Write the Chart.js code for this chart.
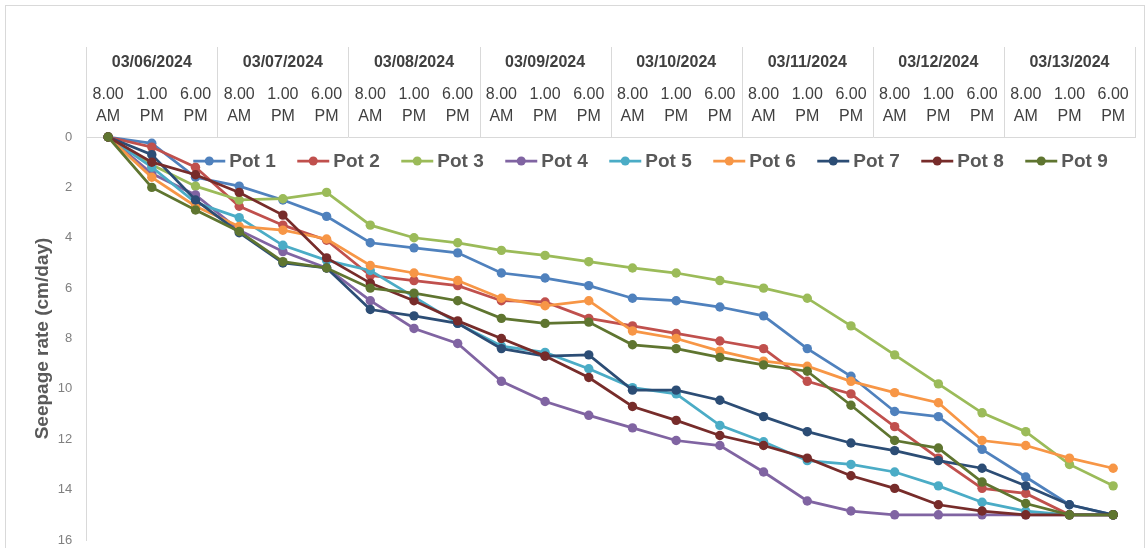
<!DOCTYPE html>
<html lang="en">
<head>
  <meta charset="UTF-8">
  <title>Seepage rate</title>
  <style>
    body {
      margin: 0;
      background: #fff;
      font-family: 'Liberation Sans', Arial, sans-serif;
    }
    .frame {
      position: absolute;
      left: 5px;
      top: 5px;
      width: 1138px;
      height: 560px;
      border: 1px solid #d9d9d9;
    }
    .wrap {
      position: absolute;
      left: 0;
      top: 0;
      width: 1147px;
      height: 548px;
    }
  </style>
  <script src="https://cdn.jsdelivr.net/npm/chart.js"></script>
</head>
<body>
  <div class="frame"></div>
  <div class="wrap"><canvas id="seepageChart"></canvas></div>

  <script>
    // categories
    const dates = ['03/06/2024', '03/07/2024', '03/08/2024', '03/09/2024',
                   '03/10/2024', '03/11/2024', '03/12/2024', '03/13/2024'];
    const slots = [['8.00', 'AM'], ['1.00', 'PM'], ['6.00', 'PM']];
    const yTicks = [0, 2, 4, 6, 8, 10, 12, 14, 16];

    // seepage rate (cm/day), one value per reading
    const pot1 = [0, 0.25, 1.6, 1.95, 2.5, 3.15, 4.2, 4.4, 4.6, 5.4, 5.6, 5.9, 6.4, 6.5, 6.75, 7.1, 8.4, 9.5, 10.9, 11.1, 12.4, 13.5, 14.6, 15];
    const pot2 = [0, 0.4, 1.2, 2.75, 3.5, 4.1, 5.5, 5.7, 5.9, 6.5, 6.55, 7.2, 7.5, 7.8, 8.1, 8.4, 9.7, 10.2, 11.5, 12.75, 13.95, 14.15, 15, 15];
    const pot3 = [0, 1.1, 1.95, 2.5, 2.45, 2.2, 3.5, 4.0, 4.2, 4.5, 4.7, 4.95, 5.2, 5.4, 5.7, 6.0, 6.4, 7.5, 8.65, 9.8, 10.95, 11.7, 13.0, 13.85];
    const pot4 = [0, 1.45, 2.3, 3.7, 4.55, 5.2, 6.5, 7.6, 8.2, 9.7, 10.5, 11.05, 11.55, 12.05, 12.25, 13.3, 14.45, 14.85, 15, 15, 15, 15, 15, 15];
    const pot5 = [0, 1.2, 2.6, 3.2, 4.3, 4.9, 5.3, 6.35, 7.4, 8.3, 8.55, 9.2, 9.95, 10.2, 11.45, 12.1, 12.85, 13.0, 13.3, 13.85, 14.5, 14.85, 15, 15];
    const pot6 = [0, 1.6, 2.75, 3.55, 3.7, 4.05, 5.1, 5.4, 5.7, 6.4, 6.7, 6.5, 7.7, 8.0, 8.5, 8.9, 9.1, 9.7, 10.15, 10.55, 12.05, 12.25, 12.75, 13.15];
    const pot7 = [0, 0.7, 2.5, 3.8, 5.0, 5.2, 6.85, 7.1, 7.4, 8.4, 8.7, 8.65, 10.05, 10.05, 10.45, 11.1, 11.7, 12.15, 12.45, 12.85, 13.15, 13.85, 14.6, 15];
    const pot8 = [0, 1.0, 1.5, 2.2, 3.1, 4.8, 5.8, 6.5, 7.3, 8.0, 8.7, 9.55, 10.7, 11.25, 11.85, 12.25, 12.75, 13.45, 13.95, 14.6, 14.85, 15, 15, 15];
    const pot9 = [0, 2.0, 2.9, 3.75, 4.95, 5.2, 6.0, 6.2, 6.5, 7.2, 7.4, 7.35, 8.25, 8.4, 8.75, 9.05, 9.3, 10.65, 12.05, 12.35, 13.7, 14.55, 15, 15];

    const potNames = ['Pot 1', 'Pot 2', 'Pot 3', 'Pot 4', 'Pot 5', 'Pot 6', 'Pot 7', 'Pot 8', 'Pot 9'];
    const potValues = [pot1, pot2, pot3, pot4, pot5, pot6, pot7, pot8, pot9];
    const potColors = ['#4F81BD', '#C0504D', '#9BBB59', '#8064A2', '#4BACC6',
                       '#F79646', '#2C4D75', '#772C2A', '#5F7530'];

    const readings = dates.flatMap(() => slots);
    const font = "'Liberation Sans', Arial, sans-serif";
    const gridGrey = '#d9d9d9';

    // vertical lines splitting the header into days
    const dayDividers = {
      id: 'dayDividers',
      afterDraw(chart) {
        const top = chart.scales.x2, bottom = chart.scales.x;
        const ctx = chart.ctx;
        const w = top.width / dates.length;
        ctx.save();
        ctx.strokeStyle = gridGrey;
        ctx.lineWidth = 1;
        for (let k = 0; k <= dates.length; k++) {
          const px = Math.round(top.left + k * w) + 0.5;
          ctx.beginPath();
          ctx.moveTo(px, top.top - 7);
          ctx.lineTo(px, bottom.bottom);
          ctx.stroke();
        }
        ctx.restore();
      }
    };

    // legend drawn inside the plot, one row, line + dot markers
    const potLegend = {
      id: 'potLegend',
      afterDatasetsDraw(chart) {
        const ctx = chart.ctx;
        const area = chart.chartArea;
        let x = area.left + 107;
        const y = area.top + 24;
        ctx.save();
        ctx.font = 'bold 19px ' + font;
        ctx.textBaseline = 'middle';
        chart.data.datasets.forEach(ds => {
          ctx.strokeStyle = ds.borderColor;
          ctx.fillStyle = ds.borderColor;
          ctx.lineWidth = 2.75;
          ctx.beginPath();
          ctx.moveTo(x, y);
          ctx.lineTo(x + 32, y);
          ctx.stroke();
          ctx.beginPath();
          ctx.arc(x + 16, y, 4.5, 0, Math.PI * 2);
          ctx.fill();
          ctx.fillStyle = '#595959';
          ctx.fillText(ds.label, x + 36, y + 1);
          x += 104;
        });
        ctx.restore();
      }
    };

    const ctx = document.getElementById('seepageChart').getContext('2d');
    new Chart(ctx, {
      type: 'line',
      data: {
        labels: readings,
        datasets: potNames.map((name, i) => ({
          label: name,
          data: potValues[i],
          borderColor: potColors[i],
          backgroundColor: potColors[i],
          pointBackgroundColor: potColors[i],
          pointBorderColor: potColors[i],
          borderWidth: 2.75,
          pointRadius: 4.7,
          pointBorderWidth: 0,
          tension: 0,
          clip: false,
          order: potNames.length - i
        }))
      },
      options: {
        responsive: true,
        maintainAspectRatio: false,
        animation: false,
        devicePixelRatio: 1,
        layout: { padding: { top: 54, left: 27, right: 12, bottom: 8 } },
        plugins: {
          legend: { display: false },
          tooltip: { enabled: false }
        },
        scales: {
          x: {
            type: 'category',
            position: 'top',
            offset: true,
            grid: {
              drawOnChartArea: false, drawTicks: true, tickLength: 9,
              tickColor: 'transparent', color: gridGrey
            },
            border: { color: gridGrey, width: 1 },
            ticks: {
              autoSkip: false,
              maxRotation: 0,
              padding: 0,
              color: '#404040',
              font: { family: font, size: 16, lineHeight: 1.375 }
            }
          },
          x2: {
            type: 'category',
            axis: 'x',
            position: 'top',
            labels: dates,
            offset: true,
            grid: {
              drawOnChartArea: false, drawTicks: true, tickLength: 12,
              tickColor: 'transparent', color: 'transparent'
            },
            border: { display: false },
            ticks: {
              autoSkip: false,
              maxRotation: 0,
              padding: 0,
              color: '#404040',
              font: { family: font, size: 16, weight: 'bold', lineHeight: 1.125 }
            }
          },
          y: {
            reverse: true,
            min: yTicks[0],
            max: yTicks[yTicks.length - 1],
            afterBuildTicks(scale) {
              scale.ticks = yTicks.map(v => ({ value: v }));
            },
            grid: {
              drawOnChartArea: false, drawTicks: true, tickLength: 14,
              tickColor: 'transparent', color: gridGrey
            },
            border: { color: gridGrey, width: 1 },
            ticks: {
              padding: 0,
              color: '#808080',
              font: { family: font, size: 13 }
            },
            title: {
              display: true,
              text: 'Seepage rate (cm/day)',
              color: '#595959',
              padding: { top: 4, bottom: 4 },
              font: { family: font, size: 19, weight: 'bold' }
            }
          }
        }
      },
      plugins: [dayDividers, potLegend]
    });
  </script>
</body>
</html>
